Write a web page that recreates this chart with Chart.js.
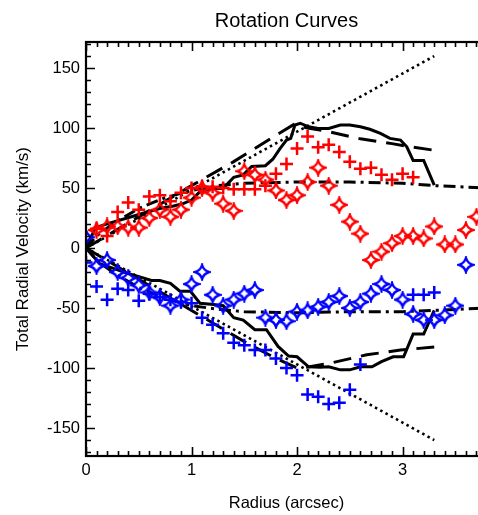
<!DOCTYPE html>
<html><head><meta charset="utf-8">
<script src="https://cdn.jsdelivr.net/npm/chart.js@4/dist/chart.umd.min.js"></script>
<style>
html,body{margin:0;padding:0;overflow:hidden;background:#fff;}
#wrap{width:500px;height:515px;position:relative;}
</style></head><body>
<div id="wrap"><canvas id="c" width="500" height="515"></canvas></div>
<script>
// ---- data ----
const xTicks = [0, 1, 2, 3];
const yTicks = [-150, -100, -50, 0, 50, 100, 150];

const redPlusX = [0.1,0.2,0.3,0.4,0.5,0.6,0.7,0.8,0.9,1.0,1.1,1.2,1.3,1.4,1.5,1.6,1.7,1.8,1.9,2.0,2.1,2.2,2.3,2.4,2.5,2.6,2.7,2.8,2.9,3.0,3.1];
const redPlusY = [16,10,30,38,32,43,44,39,46,50,51,51,50,49,49,49,52,62,70,83,93,84,86,80,72,66,67,61,57,62,59];

const redStarX = [0.1,0.2,0.3,0.4,0.5,0.6,0.7,0.8,0.9,1.0,1.1,1.2,1.3,1.4,1.5,1.6,1.7,1.8,1.9,2.0,2.1,2.2,2.3,2.4,2.5,2.6,2.7,2.8,2.9,3.0,3.1,3.2,3.3,3.4,3.5,3.6,3.7];
const redStarY = [15,18,18,17,17,25,32,26,32,42,50,46,37,31,64,61,57,48,40,44,55,67,52,36,22,12,-10,-3,4,10,10,8,18,3,3,15,26];

const bluePlusX = [0.0,0.1,0.2,0.3,0.4,0.5,0.6,0.7,0.8,0.9,1.0,1.1,1.2,1.3,1.4,1.5,1.6,1.7,1.8,1.9,2.0,2.1,2.2,2.3,2.4,2.5,2.6,3.1,3.2,3.3];
const bluePlusY = [-12,-32,-43,-34,-35,-44,-38,-41,-43,-45,-46,-58,-64,-71,-79,-81,-85,-85,-92,-100,-106,-122,-124,-130,-129,-118,-97,-39,-39,-37];

const blueStarX = [0.0,0.1,0.2,0.3,0.4,0.5,0.6,0.7,0.8,0.9,1.0,1.1,1.2,1.3,1.4,1.5,1.6,1.7,1.8,1.9,2.0,2.1,2.2,2.3,2.4,2.5,2.6,2.7,2.8,2.9,3.0,3.1,3.2,3.3,3.4,3.5,3.6];
const blueStarY = [9,-15,-10,-20,-25,-31,-37,-41,-48,-43,-30,-20,-39,-48,-43,-38,-35,-58,-60,-61,-53,-52,-49,-45,-40,-50,-45,-38,-30,-35,-43,-55,-60,-60,-56,-48,-14];

const dottedX = [0, 3.3];
const dottedUpperY = [0, 160];
const dottedLowerY = [0, -160];

const dashedUpperX = [0, 0.5, 1.0, 1.4, 1.8, 1.97, 2.1, 2.3, 2.6, 2.9, 3.1, 3.3];
const dashedUpperY = [0, 26, 52, 72, 94, 103, 100, 97, 91, 87, 84, 81.5];
const dashedLowerX = [0, 0.5, 1.0, 1.5, 1.8, 2.0, 2.12, 2.31, 2.66, 2.98, 3.3];
const dashedLowerY = [0, -26, -52, -78, -92, -100, -99, -96, -89, -85, -82.5];

const dashDotX = [0, 0.1, 0.25, 0.5, 0.75, 1.0, 1.25, 1.5, 2.0, 2.5, 3.0, 3.3, 3.8];
const dashDotUpperY = [0, 10, 20, 33, 42, 48, 52, 54, 55, 55, 54, 52, 50];
const dashDotLowerY = [0, -10, -20, -33, -42, -48, -51, -53, -54, -53, -53, -52, -50];

const solidUpperX = [0,0.09,0.23,0.39,0.54,0.70,0.83,0.92,1.0,1.08,1.21,1.30,1.40,1.49,1.57,1.70,1.77,1.84,1.90,1.94,1.98,2.03,2.11,2.20,2.30,2.41,2.50,2.60,2.69,2.79,2.88,2.98,3.04,3.10,3.20,3.30];
const solidUpperY = [0,17,21,25,29,33,35,37,40,47,49.7,49.7,59,61,68,68.6,74,83,90,91.4,102.5,104,101,99.7,99.7,102.5,102.5,101,99,95.6,91.4,90,84.4,73,73,52.5];
const solidLowerX = [0,0.13,0.26,0.39,0.51,0.62,0.70,0.80,0.89,0.99,1.08,1.21,1.30,1.40,1.49,1.60,1.71,1.82,1.92,2.0,2.11,2.22,2.30,2.41,2.50,2.60,2.71,2.80,2.91,3.01,3.10,3.20,3.30];
const solidLowerY = [0,-13,-17,-21,-24,-27,-27,-29.4,-36,-36,-46,-47,-48,-58,-60,-68,-68,-82,-90,-90.6,-99,-99.4,-99,-101.5,-101.5,-99,-99,-94.7,-90.6,-90.6,-71.7,-71.7,-52];

// ---- helpers ----
const pts = (xs, ys) => xs.map((x, i) => ({x, y: ys[i]}));

function makeStar(color){
  const s = 18, c = document.createElement('canvas');
  c.width = s; c.height = s;
  const g = c.getContext('2d');
  const r = 7, k = 1.6, m = s/2;
  g.strokeStyle = color; g.lineWidth = 2.4;
  g.beginPath();
  g.moveTo(m, m-r);
  g.quadraticCurveTo(m+k, m-k, m+r, m);
  g.quadraticCurveTo(m+k, m+k, m, m+r);
  g.quadraticCurveTo(m-k, m+k, m-r, m);
  g.quadraticCurveTo(m-k, m-k, m, m-r);
  g.closePath(); g.stroke();
  return c;
}
const redStar = makeStar('#ff0000');
const blueStar = makeStar('#0000ff');

const lineDs = (data, dash, width) => ({
  data, showLine: true, borderColor: '#000', backgroundColor: '#000',
  borderWidth: width, borderDash: dash, pointRadius: 0, fill: false,
  tension: 0, order: 2, borderCapStyle: 'butt', borderJoinStyle: 'miter'
});
const markDs = (data, style, color) => ({
  data, showLine: false, pointStyle: style, pointRadius: 6.5,
  borderColor: color, backgroundColor: color, pointBorderWidth: 2.5,
  order: 0
});

const frameTicks = {
  id: 'frameTicks',
  afterDraw(chart){
    const {ctx, chartArea: a, scales: {x, y}} = chart;
    ctx.save();
    ctx.strokeStyle = '#000';
    ctx.lineWidth = 2.2;
    ctx.strokeRect(a.left, a.top, a.right - a.left, a.bottom - a.top);
    ctx.lineWidth = 1.6;
    ctx.beginPath();
    for (let i = 0; i <= 38; i++){
      const v = i / 10, px = Math.round(x.getPixelForValue(v)) + 0.5;
      const len = (i % 10 === 0) ? 9 : 5;
      ctx.moveTo(px, a.bottom); ctx.lineTo(px, a.bottom - len);
      ctx.moveTo(px, a.top); ctx.lineTo(px, a.top + len);
    }
    for (let v = -170; v <= 170; v += 10){
      const py = Math.round(y.getPixelForValue(v)) + 0.5;
      const len = (v % 50 === 0) ? 9 : 5;
      ctx.moveTo(a.left, py); ctx.lineTo(a.left + len, py);
      ctx.moveTo(a.right, py); ctx.lineTo(a.right - len, py);
    }
    ctx.stroke();
    ctx.restore();
  }
};

const FONT = "'Liberation Sans', Arial, Helvetica, sans-serif";

new Chart(document.getElementById('c'), {
  type: 'scatter',
  data: { datasets: [
    markDs(pts(redPlusX, redPlusY), 'cross', '#ff0000'),
    markDs(pts(redStarX, redStarY), redStar, '#ff0000'),
    markDs(pts(bluePlusX, bluePlusY), 'cross', '#0000ff'),
    markDs(pts(blueStarX, blueStarY), blueStar, '#0000ff'),
    lineDs(pts(dottedX, dottedUpperY), [2.5, 3.5], 2.6),
    lineDs(pts(dottedX, dottedLowerY), [2.5, 3.5], 2.6),
    lineDs(pts(dashedUpperX, dashedUpperY), [18, 10], 3),
    lineDs(pts(dashedLowerX, dashedLowerY), [18, 10], 3),
    lineDs(pts(dashDotX, dashDotUpperY), [12, 5, 3, 5], 3),
    lineDs(pts(dashDotX, dashDotLowerY), [12, 5, 3, 5], 3),
    lineDs(pts(solidUpperX, solidUpperY), [], 3),
    lineDs(pts(solidLowerX, solidLowerY), [], 3)
  ]},
  options: {
    responsive: false, animation: false, devicePixelRatio: 1,
    layout: { padding: { left: 0, right: 13, top: 0, bottom: 0 } },
    plugins: {
      legend: { display: false }, tooltip: { enabled: false },
      title: {
        display: true, text: 'Rotation Curves', fullSize: false, color: '#000',
        font: { family: FONT, size: 20, weight: 'normal' },
        padding: { top: 9.5, bottom: 8.5 }
      }
    },
    scales: {
      x: {
        type: 'linear', min: 0, max: 3.8,
        afterBuildTicks: s => { s.ticks = xTicks.map(v => ({value: v})); },
        afterFit: s => { s.height = 59; },
        grid: { display: false, drawTicks: false },
        border: { display: false },
        ticks: { color: '#000', padding: 5, font: { family: FONT, size: 16.5 }, maxRotation: 0 },
        title: { display: true, text: 'Radius (arcsec)', color: '#000',
                 font: { family: FONT, size: 16.5 }, padding: { top: 0, bottom: 1.5 } }
      },
      y: {
        type: 'linear', min: -173.3, max: 171.7,
        afterBuildTicks: s => { s.ticks = yTicks.map(v => ({value: v})); },
        afterFit: s => { s.width = 86; },
        grid: { display: false, drawTicks: false },
        border: { display: false },
        ticks: { color: '#000', padding: 6, font: { family: FONT, size: 16.5 } },
        title: { display: true, text: 'Total Radial Velocity (km/s)', color: '#000',
                 font: { family: FONT, size: 17 }, padding: { top: 13.5, bottom: 0 } }
      }
    }
  },
  plugins: [frameTicks]
});
</script>
</body></html>
